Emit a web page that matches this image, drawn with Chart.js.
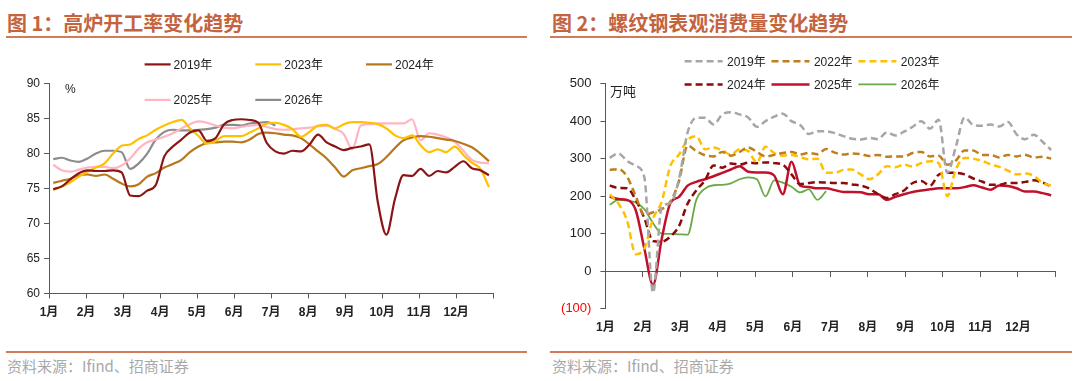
<!DOCTYPE html>
<html lang="zh-CN">
<head>
<meta charset="utf-8">
<title>高炉开工率与螺纹钢表观消费量</title>
<script src="https://cdn.jsdelivr.net/npm/chart.js@4.4.1/dist/chart.umd.min.js"></script>
<style>
  html, body { margin: 0; padding: 0; background: #fff; }
  #page { position: relative; width: 1080px; height: 381px; overflow: hidden; }
  .title { position: absolute; top: 10px; font-family: "Noto Sans CJK SC", sans-serif; font-size: 20px; font-weight: 700; color: #C4643F; line-height: 26px; white-space: nowrap; }
  .rule { position: absolute; height: 2px; background: #D27B59; }
  .source { position: absolute; top: 356px; font-family: "Noto Sans CJK SC", sans-serif; font-size: 15px; color: #A8A8A8; line-height: 20px; white-space: nowrap; }
  .unit { position: absolute; color: #222; white-space: nowrap; }
  canvas { position: absolute; top: 40px; }
</style>
</head>
<body>
<div id="page">
  <div class="title" style="left:7px">图 1：高炉开工率变化趋势</div>
  <div class="title" style="left:552px">图 2：螺纹钢表观消费量变化趋势</div>
  <div class="rule" style="left:6px; width:521px; top:36px"></div>
  <div class="rule" style="left:550px; width:522px; top:36px"></div>

  <canvas id="furnace" width="535" height="300" style="left:0; width:535px; height:300px"></canvas>
  <canvas id="rebar" width="535" height="300" style="left:545px; width:535px; height:300px"></canvas>

  <div class="unit" style="left:65px; top:82px; font:12px 'Liberation Sans', sans-serif">%</div>
  <div class="unit" style="left:610px; top:81px; font:13px 'Noto Sans CJK SC', sans-serif">万吨</div>

  <div class="rule" style="left:6px; width:521px; top:351px"></div>
  <div class="rule" style="left:550px; width:522px; top:351px"></div>
  <div class="source" style="left:7px">资料来源：Ifind、招商证券</div>
  <div class="source" style="left:552px">资料来源：Ifind、招商证券</div>
</div>

<script>
// month tick labels (weekly data is laid out on a 0..12 month axis)
const monthLabels = ['1月', '2月', '3月', '4月', '5月', '6月', '7月', '8月', '9月', '10月', '11月', '12月'];

// 图1 高炉开工率 (%), weekly
const furnaceYears = ['2019年', '2023年', '2024年', '2025年', '2026年'];
const furnace2019 = [74.9, 75.3, 76.3, 77.2, 77.6, 77.5, 77.5, 77.6, 77.3, 74.0,
  73.9, 74.7, 75.5, 79.6, 81.0, 82.0, 83.0, 83.3, 81.8, 82.2,
  84.2, 84.8, 84.9, 84.8, 84.4, 81.5, 80.3, 80.0, 80.4, 80.3,
  81.3, 82.7, 81.6, 81.0, 80.5, 80.8, 81.0, 81.3, 73.0, 68.4,
  73.5, 76.9, 76.8, 77.8, 76.8, 77.5, 77.3, 78.1, 78.9, 77.9,
  77.6, 76.9];
const furnace2023 = [74.8, 75.3, 75.9, 76.7, 77.4, 78.0, 78.6, 80.0, 81.1, 81.3,
  82.1, 82.6, 83.4, 84.0, 84.5, 84.8, 83.6, 82.5, 81.4, 81.8,
  82.5, 82.5, 82.5, 83.0, 83.6, 84.3, 84.4, 84.1, 83.5, 82.4,
  83.1, 84.0, 84.1, 83.6, 84.2, 84.5, 84.5, 84.4, 84.2, 83.6,
  82.6, 82.2, 82.6, 81.2, 80.2, 80.6, 80.2, 81.0, 79.8, 78.7,
  77.8, 75.2];
const furnace2024 = [75.8, 76.1, 76.4, 76.9, 77.0, 76.8, 77.0, 76.4, 75.7, 75.3,
  75.6, 76.7, 77.2, 78.0, 78.5, 79.1, 80.2, 81.0, 81.5, 81.6,
  81.7, 81.7, 81.6, 82.0, 82.8, 83.0, 82.9, 82.7, 82.6, 82.2,
  81.3, 80.3, 79.3, 78.0, 76.7, 77.6, 77.9, 78.2, 78.5, 79.5,
  80.8, 81.9, 82.3, 82.5, 82.4, 82.2, 82.0, 81.8, 81.4, 80.9,
  80.0, 78.9];
const furnace2025 = [78.4, 77.6, 77.4, 77.7, 78.0, 78.1, 78.1, 77.9, 78.3, 79.3,
  80.7, 81.6, 82.0, 82.4, 82.9, 83.6, 84.2, 84.6, 84.4, 84.0,
  83.7, 83.6, 83.8, 84.0, 84.1, 83.8, 83.5, 83.4, 83.5, 83.6,
  83.7, 83.9, 84.0, 83.5, 82.8, 80.6, 84.0, 84.2, 84.3, 84.3,
  84.3, 84.3, 84.9, 81.9, 82.9, 82.7, 82.3, 81.7, 80.4, 79.1,
  78.7, 78.6];
const furnace2026 = [79.2, 79.4, 79.0, 78.8, 79.3, 80.0, 80.4, 80.4, 80.2, 77.8,
  78.6, 80.0, 82.0, 83.1, 83.4, 83.3, 83.3, 83.4, 83.5, 83.7,
  84.1, 84.1, 84.0, 84.3, 84.4, 84.5, 84.0];

// 图2 螺纹钢表观消费量 (万吨), weekly
const rebarYears = ['2019年', '2022年', '2023年', '2024年', '2025年', '2026年'];
const rebar2019 = [302, 314, 294, 281, 250, -58, 170, 181, 245, 370,
  409, 409, 391, 418, 424, 418, 410, 385, 400, 412,
  420, 400, 390, 366, 373, 373, 368, 360, 353, 351,
  355, 352, 370, 362, 372, 385, 400, 380, 404, 262,
  333, 410, 390, 388, 391, 386, 398, 365, 352, 364,
  345, 323];
const rebar2022 = [270, 272, 252, 200, 150, 157, 165, 185, 240, 335,
  320, 309, 306, 318, 308, 318, 330, 318, 306, 310,
  315, 318, 311, 315, 312, 326, 316, 311, 314, 312,
  307, 310, 305, 306, 306, 315, 318, 306, 308, 284,
  295, 322, 322, 310, 310, 303, 310, 306, 310, 303,
  305, 300];
const rebar2023 = [205, 180, 135, 45, 60, 140, 185, 280, 311, 350,
  360, 325, 330, 322, 311, 325, 320, 290, 332, 315,
  308, 310, 304, 298, 300, 262, 262, 270, 271, 258,
  245, 258, 280, 277, 284, 279, 288, 293, 288, 200,
  272, 302, 300, 294, 285, 278, 268, 258, 260, 254,
  235, 228];
const rebar2024 = [228, 222, 221, 190, 141, 80, 78, 92, 120, 180,
  215, 242, 282, 276, 287, 284, 289, 288, 290, 288,
  284, 258, 232, 235, 237, 236, 235, 235, 231, 228,
  220, 205, 195, 205, 215, 235, 240, 228, 257, 262,
  262, 258, 247, 239, 230, 230, 235, 235, 238, 242,
  236, 226];
const rebar2025 = [199, 192, 190, 163, 60, -37, 85, 181, 198, 228,
  238, 245, 253, 262, 271, 280, 265, 263, 263, 255,
  205, 292, 228, 224, 221, 221, 216, 211, 211, 210,
  205, 205, 190, 198, 205, 211, 215, 218, 221, 221,
  221, 224, 229, 223, 217, 228, 227, 221, 212, 212,
  208, 202];
const rebar2026 = [177, 190, 188, 183, 165, 128, 100, 99, 98, 97,
  190, 220, 229, 230, 234, 245, 250, 245, 199, 242,
  236, 225, 210, 218, 190, 213];

const axisColor = '#595959';
Chart.defaults.font.family = '"Liberation Sans", Arial, "Noto Sans CJK SC", sans-serif';
Chart.defaults.font.size = 12;
Chart.defaults.color = '#222';

// week i sits at (i + 0.5) / 52 of the year
function weekPoints(values) {
  return values.map((v, i) => ({ x: (i + 0.5) * 12 / 52, y: v }));
}

// legend laid out in a fixed grid, as in the source figure
const gridLegend = {
  id: 'gridLegend',
  afterDraw(chart, args, opts) {
    const ctx = chart.ctx;
    ctx.save();
    chart.data.datasets.forEach((ds, i) => {
      const x = opts.x + (i % opts.cols) * opts.colW;
      const y = opts.y + Math.floor(i / opts.cols) * opts.rowH;
      ctx.strokeStyle = ds.borderColor;
      ctx.lineWidth = ds.borderWidth;
      ctx.setLineDash(ds.borderDash || []);
      ctx.beginPath();
      ctx.moveTo(x, y);
      ctx.lineTo(x + opts.lineW, y);
      ctx.stroke();
      ctx.setLineDash([]);
      ctx.fillStyle = '#222';
      ctx.font = '12px "Liberation Sans", "Noto Sans CJK SC", sans-serif';
      ctx.textBaseline = 'middle';
      ctx.fillText(ds.label, x + opts.lineW + opts.gap, y + 1);
    });
    ctx.restore();
  }
};

function line(label, values, color, width, dash) {
  return {
    label: label,
    data: weekPoints(values),
    xAxisID: 'x',
    borderColor: color,
    borderWidth: width,
    borderDash: dash || [],
    pointRadius: 0,
    cubicInterpolationMode: 'monotone',
    fill: false
  };
}

// chart 1
new Chart(document.getElementById('furnace'), {
  type: 'line',
  data: {
    datasets: [
      line(furnaceYears[0], furnace2019, '#8B1515', 2.2),
      line(furnaceYears[1], furnace2023, '#FFC000', 2.2),
      line(furnaceYears[2], furnace2024, '#B8771A', 2.2),
      line(furnaceYears[3], furnace2025, '#FFB5C2', 2.2),
      line(furnaceYears[4], furnace2026, '#8C8C8C', 2.2)
    ]
  },
  options: {
    responsive: false,
    animation: false,
    layout: { padding: { top: 43.6, right: 41.8, bottom: 0, left: 0 } },
    plugins: {
      legend: { display: false },
      tooltip: { enabled: false },
      gridLegend: { x: 144.6, y: 24.4, cols: 3, colW: 110.7, rowH: 35.5, lineW: 26, gap: 3 }
    },
    scales: {
      x: {
        type: 'linear', min: 0, max: 12,
        border: { color: axisColor },
        grid: { drawOnChartArea: false, tickLength: 5, color: axisColor },
        ticks: { stepSize: 1, padding: 7, autoSkip: false, maxRotation: 0,
          font: { size: 12, weight: 'bold' },
          callback: v => monthLabels[v] || '' },
        afterFit: s => { s.height = 46.6; }
      },
      y: {
        min: 60, max: 90,
        border: { color: axisColor },
        grid: { drawOnChartArea: false, tickLength: 5, color: axisColor },
        ticks: { stepSize: 5, padding: 4 },
        afterFit: s => { s.width = 49; }
      }
    }
  },
  plugins: [gridLegend]
});

// chart 2
new Chart(document.getElementById('rebar'), {
  type: 'line',
  data: {
    datasets: [
      line(rebarYears[0], rebar2019, '#A6A6A6', 2.5, [7, 4]),
      line(rebarYears[1], rebar2022, '#BF7F1F', 2.5, [7, 4]),
      line(rebarYears[2], rebar2023, '#FFC000', 2.5, [7, 4]),
      line(rebarYears[3], rebar2024, '#8B0A0A', 2.5, [7, 4]),
      line(rebarYears[4], rebar2025, '#C0102C', 2.5),
      line(rebarYears[5], rebar2026, '#6AAA45', 1.8)
    ]
  },
  options: {
    responsive: false,
    animation: false,
    layout: { padding: { top: 43.7, right: 24.5, bottom: 0, left: 0 } },
    plugins: {
      legend: { display: false },
      tooltip: { enabled: false },
      gridLegend: { x: 139.6, y: 21.3, cols: 3, colW: 86.9, rowH: 23.1, lineW: 38, gap: 4.4 }
    },
    scales: {
      x: {
        type: 'linear', min: 0, max: 12, position: 'bottom',
        border: { display: false },
        grid: { display: false, drawTicks: false },
        ticks: { stepSize: 1, padding: 12, autoSkip: false, maxRotation: 0,
          font: { size: 12, weight: 'bold' },
          callback: v => monthLabels[v] || '' },
        afterFit: s => { s.height = 31.5; }
      },
      xZero: {
        type: 'linear', min: 0, max: 12, position: { y: 0 },
        border: { color: axisColor },
        grid: { drawOnChartArea: false, tickLength: 5, color: axisColor },
        ticks: { display: false, stepSize: 1 }
      },
      y: {
        min: -100, max: 500,
        border: { color: axisColor },
        grid: { drawOnChartArea: false, tickLength: 5, color: axisColor },
        ticks: {
          stepSize: 100, padding: 9, font: { size: 13 },
          color: c => c.tick.value < 0 ? '#FF0000' : '#222',
          callback: v => v < 0 ? '(' + (-v) + ')' : v
        },
        afterFit: s => { s.width = 60.4; }
      }
    }
  },
  plugins: [gridLegend]
});
</script>
</body>
</html>
